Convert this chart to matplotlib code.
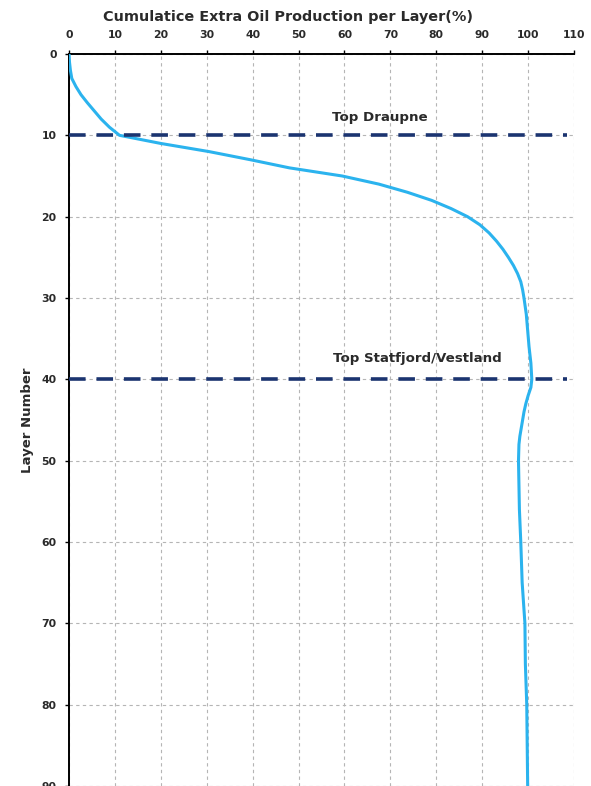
import numpy as np
import matplotlib.pyplot as plt

# --- Data ---
layers = [0, 1, 2, 3, 4, 5, 6, 7, 8, 9, 10, 11, 12, 13, 14, 15, 16, 17, 18,
          19, 20, 21, 22, 23, 24, 25, 26, 27, 28, 29, 30, 32, 34, 36, 38, 40,
          41, 42, 43, 44, 45, 46, 47, 48, 50, 53, 56, 60, 65, 70, 75, 80, 85,
          90]
cum_oil = [0.0, 0.1, 0.3, 0.6, 1.5, 2.6, 4.0, 5.5, 7.0, 8.8, 11.0, 20.0,
           30.5, 39.5, 48.0, 59.5, 67.5, 73.7, 79.0, 83.2, 86.8, 89.5, 91.5,
           93.1, 94.5, 95.7, 96.8, 97.7, 98.4, 98.8, 99.1, 99.6, 99.9, 100.2,
           100.6, 100.8, 100.6, 100.0, 99.5, 99.1, 98.8, 98.5, 98.2, 98.0,
           97.9, 98.0, 98.1, 98.4, 98.7, 99.3, 99.4, 99.7, 99.8, 99.9]

tops = [10, 40]
top_names = ["Top Draupne", "Top Statfjord/Vestland"]
label_x = [67.8, 75.9]
label_y = [7.8, 37.5]

# --- Colors ---
sky = "#2BB3EE"
navy = "#1B3470"
grid_gray = "#B5B5B5"
text_col = "#2A2A2A"

plt.rcParams['font.family'] = ['DejaVu Sans']

fig = plt.figure(figsize=(5.91, 7.86), dpi=100)
ax = fig.add_axes([0.1168, 0.0, 0.8545, 0.9313])

ax.plot(cum_oil, layers, color=sky, lw=2.2, zorder=3)

for t, name, lx, ly in zip(tops, top_names, label_x, label_y):
    ax.plot([0, 108.5], [t, t], color=navy, lw=2.6, dashes=(4.6, 3.0),
            zorder=4)
    ax.text(lx, ly, name, ha='center', va='center', fontsize=9.6,
            fontweight='bold', color=text_col)

ax.set_xlim(0, 110)
ax.set_ylim(90, 0)
ax.set_xticks(np.arange(0, 111, 10))
ax.set_yticks(np.arange(0, 91, 10))
ax.xaxis.tick_top()
ax.tick_params(axis='both', labelsize=7.8, length=3, width=1, color='black',
               labelcolor=text_col)
ax.tick_params(axis='x', pad=7)
ax.tick_params(axis='y', pad=6)
for lab in ax.get_xticklabels() + ax.get_yticklabels():
    lab.set_fontweight('bold')

ax.grid(True, color=grid_gray, linestyle=(0, (3, 3)), lw=0.8)
ax.set_axisbelow(True)
for side in ['right', 'bottom']:
    ax.spines[side].set_visible(False)
for side in ['left', 'top']:
    ax.spines[side].set_linewidth(1.4)
    ax.spines[side].set_color('black')

fig.text(288 / 591, 1 - 17 / 786,
         "Cumulatice Extra Oil Production per Layer(%)",
         ha='center', va='center', fontsize=10.4, fontweight='bold',
         color=text_col)
fig.text(28 / 591, 1 - 420 / 786, "Layer Number", rotation=90,
         ha='center', va='center', fontsize=9.5, fontweight='bold',
         color=text_col)

fig.savefig("out.png", dpi=100)
